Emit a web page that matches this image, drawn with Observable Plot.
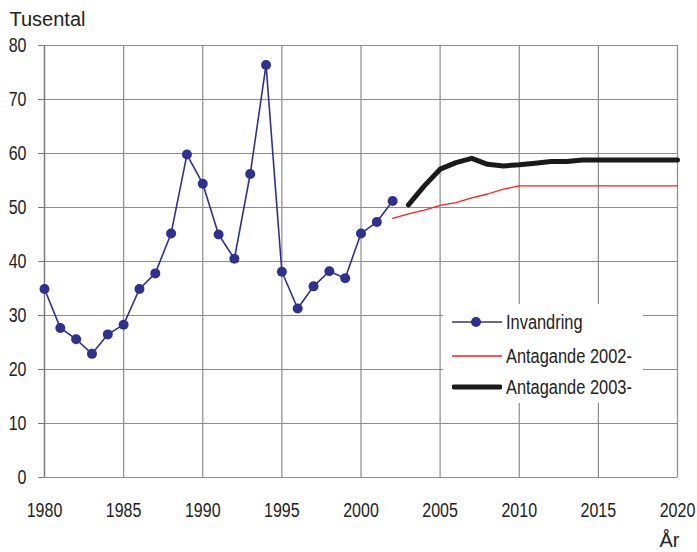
<!DOCTYPE html>
<html>
<head>
<meta charset="utf-8">
<script src="https://cdn.jsdelivr.net/npm/d3@7"></script>
<script src="https://cdn.jsdelivr.net/npm/@observablehq/plot@0.6"></script>
<style>
  html, body { margin: 0; padding: 0; background: #fff; }
  #wrap { position: relative; width: 697px; height: 552px; }
  #legend { position: absolute; left: 443px; top: 304px; width: 200px; height: 99px; background: #fff; font-family: "Liberation Sans", Arial, sans-serif; }
  #legend .row { position: absolute; left: 0; height: 30px; display: flex; align-items: center; font-size: 20px; color: #222; white-space: nowrap; }
  #legend svg { margin-left: 9px; margin-right: 4px; flex: none; }
  #legend span { display: inline-block; transform: scaleX(0.82); transform-origin: left center; }
</style>
</head>
<body>
<div id="wrap"></div>
<script>
// Data
const years = [1980,1981,1982,1983,1984,1985,1986,1987,1988,1989,1990,1991,1992,1993,1994,1995,1996,1997,1998,1999,2000,2001,2002];
const invandring = [34.9,27.7,25.6,22.9,26.5,28.3,34.9,37.8,45.2,59.8,54.4,45.0,40.5,56.2,76.4,38.1,31.3,35.4,38.2,36.9,45.2,47.3,51.2];

const years2002 = [2002,2003,2004,2005,2006,2007,2008,2009,2010,2011,2012,2013,2014,2015,2016,2017,2018,2019,2020];
const antagande2002 = [48.0,48.8,49.5,50.4,50.9,51.8,52.5,53.4,54.0,54.0,54.0,54.0,54.0,54.0,54.0,54.0,54.0,54.0,54.0];

const years2003 = [2003,2004,2005,2006,2007,2008,2009,2010,2011,2012,2013,2014,2015,2016,2017,2018,2019,2020];
const antagande2003 = [50.5,54.0,57.1,58.3,59.1,58.0,57.7,57.9,58.2,58.5,58.5,58.8,58.8,58.8,58.8,58.8,58.8,58.8];

const xTicks = [1980,1985,1990,1995,2000,2005,2010,2015,2020];
const yTicks = [0,10,20,30,40,50,60,70,80];

const seriesNames = ["Invandring","Antagande 2002-","Antagande 2003-"];
const colors = ["#2e3192","#ff1a1a","#1a1a1a"];

const obs = years.map((y,i)=>({year:y, value:invandring[i]}));
const p2002 = years2002.map((y,i)=>({year:y, value:antagande2002[i]}));
const p2003 = years2003.map((y,i)=>({year:y, value:antagande2003[i]}));

const gridStyle = {stroke:"#8c8c8c", strokeOpacity:1, strokeWidth:1.2};
const font = '"Liberation Sans", Arial, sans-serif';

const chart = Plot.plot({
  width: 697,
  height: 552,
  marginLeft: 44,
  marginRight: 20,
  marginTop: 45,
  marginBottom: 75,
  style: {fontFamily: font, fontSize: "20px", color: "#222", background: "#fff", overflow: "visible"},
  x: {domain: [1980, 2020]},
  y: {domain: [0, 80]},
  marks: [
    Plot.gridX(xTicks, gridStyle),
    Plot.gridY(yTicks, gridStyle),
    Plot.ruleX([1980], {stroke:"#777", strokeWidth:1.3}),
    Plot.axisY(yTicks, {tickSize: 6, tickPadding: 12, stroke:"#777", label: null, fontSize: 20}),
    Plot.axisX(xTicks, {tickSize: 0, tickPadding: 25, tickFormat: d => String(d), label: null, fontSize: 20}),
    Plot.line(p2002, {x:"year", y:"value", stroke: colors[1], strokeWidth: 1.3}),
    Plot.line(p2003, {x:"year", y:"value", stroke: colors[2], strokeWidth: 5, strokeLinejoin:"round", strokeLinecap:"round"}),
    Plot.line(obs, {x:"year", y:"value", stroke: colors[0], strokeWidth: 1.6}),
    Plot.dot(obs, {x:"year", y:"value", fill: colors[0], r: 5}),
    Plot.text(["Tusental"], {frameAnchor:"top-left", dx:-35, dy:-26, textAnchor:"start", lineAnchor:"middle", fontFamily:font, fontSize:20, fill:"#222"}),
    Plot.text(["År"], {frameAnchor:"bottom-right", dx:2, dy:63, textAnchor:"end", lineAnchor:"middle", fontFamily:font, fontSize:20, fill:"#222"})
  ]
});

const wrap = document.getElementById("wrap");
wrap.appendChild(chart);

// Condense tick labels (narrow face look)
chart.querySelectorAll('g[aria-label$="tick label"] text').forEach(t => {
  const len = t.getComputedTextLength();
  t.setAttribute("textLength", (len * 0.8).toFixed(2));
  t.setAttribute("lengthAdjust", "spacingAndGlyphs");
});

// Legend (HTML overlay)
const legend = document.createElement("div");
legend.id = "legend";
const rowTops = [3, 37, 68];
const swatch = [
  `<svg width="50" height="12"><line x1="0" y1="6" x2="50" y2="6" stroke="${colors[0]}" stroke-width="1.6"/><circle cx="24" cy="6" r="5" fill="${colors[0]}"/></svg>`,
  `<svg width="50" height="12"><line x1="0" y1="6" x2="50" y2="6" stroke="${colors[1]}" stroke-width="1.3"/></svg>`,
  `<svg width="50" height="12"><line x1="2" y1="6" x2="48" y2="6" stroke="${colors[2]}" stroke-width="5" stroke-linecap="round"/></svg>`
];
seriesNames.forEach((name, i) => {
  const row = document.createElement("div");
  row.className = "row";
  row.style.top = rowTops[i] + "px";
  row.innerHTML = swatch[i] + `<span>${name}</span>`;
  legend.appendChild(row);
});
wrap.appendChild(legend);
</script>
</body>
</html>
